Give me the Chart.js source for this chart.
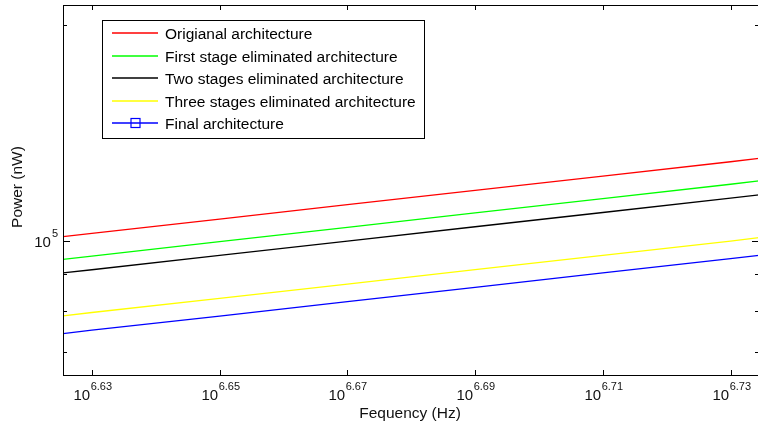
<!DOCTYPE html>
<html>
<head>
<meta charset="utf-8">
<script src="https://cdn.jsdelivr.net/npm/chart.js@4.4.0/dist/chart.umd.min.js"></script>
<style>
    html, body { margin: 0; padding: 0; background: #fff; overflow: hidden; }
    #wrap { width: 762px; height: 427px; }
</style>
</head>
<body>
<div id="wrap"><canvas id="powerChart" width="762" height="427"></canvas></div>
<script>
// --- Data ---
const frequencies = [4.2216e6, 4.2658e6, 4.4668e6, 4.6774e6, 4.8978e6, 5.1286e6, 5.3703e6, 5.4257e6];
const originalPower = [101400, 102500, 107300, 112400, 117700, 123200, 129000, 130400];
const firstStagePower = [94300, 95300, 99800, 104500, 109500, 114600, 120000, 121300];
const twoStagesPower = [90300, 91200, 95500, 100000, 104700, 109600, 114800, 116000];
const threeStagesPower = [78650, 79500, 83200, 87100, 91200, 95500, 100000, 101100];
const finalPower = [74300, 75100, 78600, 82300, 86200, 90300, 94500, 95500];

const seriesLabels = [
    'Origianal architecture',
    'First stage eliminated architecture',
    'Two stages eliminated architecture',
    'Three stages eliminated architecture',
    'Final architecture'
];
const seriesColors = ['#ff0000', '#00ff00', '#000000', '#ffff00', '#0000ff'];

const xTickExponents = [6.63, 6.65, 6.67, 6.69, 6.71, 6.73];
const yMinorTicks = [70000, 80000, 90000, 200000];
const yMajorTicks = [100000];
const yMajorExponents = [5];

const FONT = '"Liberation Sans", Arial, Helvetica, sans-serif';

function toPoints(values) {
    return values.map((v, i) => ({ x: frequencies[i], y: v }));
}

const allSeries = [originalPower, firstStagePower, twoStagesPower, threeStagesPower, finalPower];

// --- Axes, ticks and legend drawn MATLAB style ---
const matlabAxes = {
    id: 'matlabAxes',
    afterDraw(chart) {
        const ctx = chart.ctx;
        const a = chart.chartArea;
        const xs = chart.scales.x;
        const ys = chart.scales.y;
        ctx.save();
        ctx.strokeStyle = '#000';
        ctx.lineWidth = 1;

        // frame
        ctx.strokeRect(Math.round(a.left) + 0.5, Math.round(a.top) + 0.5,
            Math.round(a.right - a.left), Math.round(a.bottom - a.top));

        // x ticks + labels
        ctx.fillStyle = '#111';
        xTickExponents.forEach(e => {
            const px = Math.round(xs.getPixelForValue(Math.pow(10, e))) + 0.5;
            ctx.beginPath();
            ctx.moveTo(px, a.bottom); ctx.lineTo(px, a.bottom - 5);
            ctx.moveTo(px, a.top); ctx.lineTo(px, a.top + 5);
            ctx.stroke();

            ctx.font = '15px ' + FONT;
            const baseW = ctx.measureText('10').width;
            ctx.font = '11px ' + FONT;
            const expText = e.toFixed(2);
            const expW = ctx.measureText(expText).width;
            const start = px - (baseW + expW) / 2;
            ctx.textBaseline = 'alphabetic';
            ctx.textAlign = 'left';
            ctx.font = '15px ' + FONT;
            ctx.fillText('10', start, 400);
            ctx.font = '11px ' + FONT;
            ctx.fillText(expText, start + baseW + 0.5, 389.5);
        });

        // y ticks
        yMinorTicks.forEach(v => {
            const py = Math.round(ys.getPixelForValue(v)) + 0.5;
            ctx.beginPath();
            ctx.moveTo(a.left, py); ctx.lineTo(a.left + 4, py);
            ctx.moveTo(a.right, py); ctx.lineTo(a.right - 4, py);
            ctx.stroke();
        });
        yMajorTicks.forEach((v, i) => {
            const py = Math.round(ys.getPixelForValue(v)) + 0.5;
            ctx.beginPath();
            ctx.moveTo(a.left, py); ctx.lineTo(a.left + 7, py);
            ctx.moveTo(a.right, py); ctx.lineTo(a.right - 7, py);
            ctx.stroke();

            ctx.font = '11px ' + FONT;
            const expText = String(yMajorExponents[i]);
            const expW = ctx.measureText(expText).width;
            ctx.textAlign = 'right';
            ctx.fillText(expText, a.left - 5, py - 5);
            ctx.font = '15px ' + FONT;
            ctx.fillText('10', a.left - 6 - expW, py + 5.5);
        });

        // axis titles
        ctx.textAlign = 'center';
        ctx.textBaseline = 'middle';
        ctx.font = '15.5px ' + FONT;
        ctx.fillText('Fequency (Hz)', (a.left + a.right) / 2 - 1, 414);
        ctx.save();
        ctx.translate(18, 187);
        ctx.rotate(-Math.PI / 2);
        ctx.fillText('Power (nW)', 0, 0);
        ctx.restore();

        // legend
        const box = { left: 102, top: 20, right: 424, bottom: 138 };
        ctx.fillStyle = '#fff';
        ctx.fillRect(box.left, box.top, box.right - box.left, box.bottom - box.top);
        ctx.strokeStyle = '#000';
        ctx.lineWidth = 1;
        ctx.strokeRect(box.left + 0.5, box.top + 0.5, box.right - box.left, box.bottom - box.top);
        chart.data.datasets.forEach((ds, i) => {
            const rowY = Math.round(33 + i * 22.6);
            ctx.strokeStyle = seriesColors[i];
            ctx.lineWidth = 1.6;
            ctx.beginPath();
            ctx.moveTo(112, rowY); ctx.lineTo(158, rowY);
            ctx.stroke();
            if (i === 4) {
                ctx.lineWidth = 1.2;
                ctx.strokeRect(131, rowY - 4.5, 9, 9);
            }
            ctx.fillStyle = '#000';
            ctx.textAlign = 'left';
            ctx.textBaseline = 'middle';
            ctx.font = '15.5px ' + FONT;
            ctx.fillText(ds.label, 165, rowY + 1.5);
        });
        ctx.restore();
    }
};

new Chart(document.getElementById('powerChart'), {
    type: 'line',
    data: {
        datasets: allSeries.map((vals, i) => ({
            label: seriesLabels[i],
            data: toPoints(vals),
            borderColor: seriesColors[i],
            backgroundColor: seriesColors[i],
            borderWidth: 1.3,
            pointRadius: 0,
            tension: 0,
            fill: false
        }))
    },
    options: {
        responsive: false,
        animation: false,
        layout: { padding: { left: 63, top: 5, right: 3, bottom: 52 } },
        plugins: { legend: { display: false }, tooltip: { enabled: false } },
        scales: {
            x: { type: 'logarithmic', display: false, min: 4.2216e6, max: 5.4257e6 },
            y: { type: 'logarithmic', display: false, min: 65040, max: 213400 }
        }
    },
    plugins: [matlabAxes]
});
</script>
</body>
</html>
